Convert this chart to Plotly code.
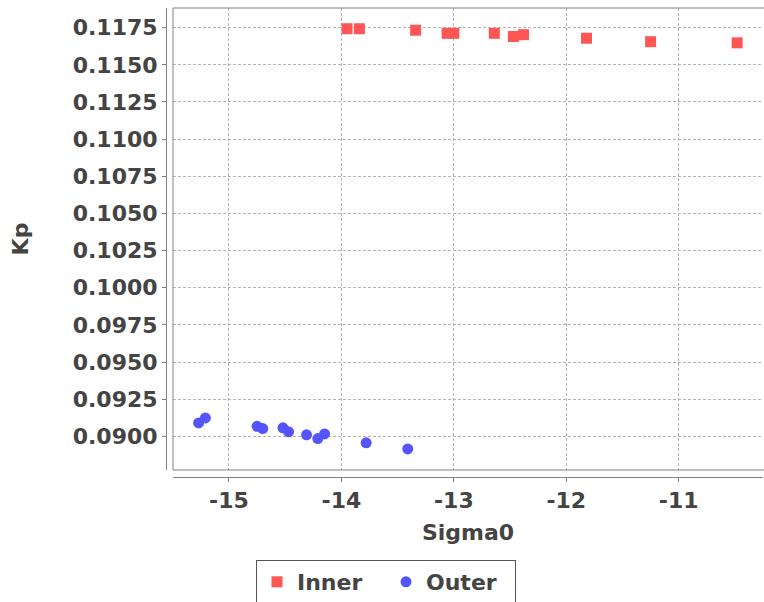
import plotly.graph_objects as go

# ---- data ----
inner_sigma0 = [-13.95, -13.84, -13.34, -13.06, -13.00, -12.64, -12.47, -12.38, -11.82, -11.25, -10.48]
inner_kp = [0.11743, 0.11743, 0.11733, 0.11712, 0.11712, 0.11712, 0.11691, 0.11703, 0.11679, 0.11656, 0.11648]

outer_sigma0 = [-15.27, -15.21, -14.75, -14.70, -14.52, -14.47, -14.31, -14.21, -14.15, -13.78, -13.41]
outer_kp = [0.09090, 0.09124, 0.09067, 0.09052, 0.09057, 0.09030, 0.09010, 0.08985, 0.09016, 0.08956, 0.08915]

x_tickvals = [-15, -14, -13, -12, -11]
x_ticktext = ["-15", "-14", "-13", "-12", "-11"]
y_tickvals = [0.0900, 0.0925, 0.0950, 0.0975, 0.1000, 0.1025, 0.1050, 0.1075, 0.1100, 0.1125, 0.1150, 0.1175]
y_ticktext = ["%.4f" % v for v in y_tickvals]

W, H = 764, 602
ML, MR, MT, MB = 166, 1, 8, 125
GAP = 7
pw = W - ML - MR
ph = H - MT - MB

font_fam = "DejaVu Sans"
txt = "#444444"
axis_col = "#808080"
grid_col = "#b4b4b4"
fnt = dict(family=font_fam, size=22, color=txt, weight="bold")

fig = go.Figure()
fig.add_trace(go.Scatter(
    x=inner_sigma0, y=inner_kp, mode="markers", name="Inner",
    marker=dict(symbol="square", size=11, color="#FF5555"),
))
fig.add_trace(go.Scatter(
    x=outer_sigma0, y=outer_kp, mode="markers", name="Outer",
    marker=dict(symbol="circle", size=11, color="#5555FF"),
))

fig.update_layout(
    width=W, height=H,
    margin=dict(l=ML, r=MR, t=MT, b=MB, autoexpand=False),
    paper_bgcolor="white", plot_bgcolor="white",
    font=fnt,
    showlegend=True,
    legend=dict(
        orientation="h",
        x=(386 - ML) / pw, xanchor="center",
        y=(H - MB - 560) / ph, yanchor="top",
        bordercolor="#555555", borderwidth=1,
        font=fnt,
        entrywidth=84,
    ),
    xaxis=dict(
        domain=[GAP / pw, 1], anchor="free", position=0,
        range=[-15.498, -10.25],
        tickvals=x_tickvals, ticktext=x_ticktext,
        showline=True, linecolor=axis_col, linewidth=1,
        ticks="outside", ticklen=4, tickcolor=axis_col,
        showgrid=True, gridcolor=grid_col, griddash="3px,2px", gridwidth=1,
        zeroline=False, automargin=False,
        tickfont=fnt,
        title=dict(text="Sigma0", font=fnt, standoff=12),
    ),
    yaxis=dict(
        domain=[GAP / ph, 1], anchor="free", position=0,
        range=[0.087732, 0.118826],
        tickvals=y_tickvals, ticktext=y_ticktext,
        showline=True, linecolor=axis_col, linewidth=1,
        ticks="outside", ticklen=4, tickcolor=axis_col,
        showgrid=True, gridcolor=grid_col, griddash="3px,2px", gridwidth=1,
        zeroline=False, automargin=False,
        tickfont=fnt,
        title=dict(text="Kp", font=fnt, standoff=36),
    ),
)

# plot outline (right side runs past the canvas edge, as in the reference)
fig.add_shape(type="rect", xref="paper", yref="paper",
              x0=GAP / pw, x1=1.02, y0=GAP / ph, y1=1,
              line=dict(color=axis_col, width=1), fillcolor="rgba(0,0,0,0)", layer="above")

fig.write_html(
    "out.html",
    config={"displayModeBar": False},
    post_script="document.body.style.margin='0px';document.body.style.overflow='hidden';",
)
